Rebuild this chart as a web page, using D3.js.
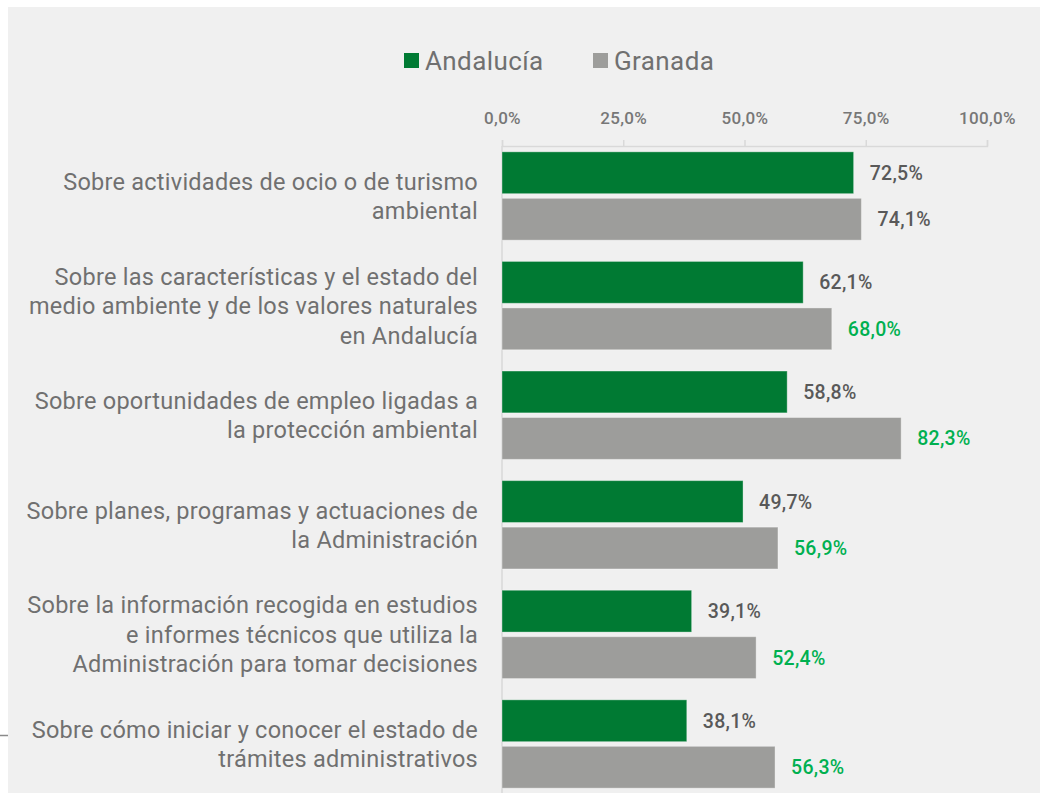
<!DOCTYPE html>
<html>
<head>
<meta charset="utf-8">
<script src="https://cdn.jsdelivr.net/npm/d3@7"></script>
<style>
  html, body { margin: 0; padding: 0; background: #ffffff; }
  svg { display: block; }
  text { font-family: Roboto, "Noto Sans", sans-serif; }
</style>
</head>
<body>
<svg id="chart" width="1040" height="793"></svg>
<script>
// Categories (each entry is the list of wrapped lines)
const categories = [
  ["Sobre actividades de ocio o de turismo", "ambiental"],
  ["Sobre las características y el estado del", "medio ambiente y de los valores naturales", "en Andalucía"],
  ["Sobre oportunidades de empleo ligadas a", "la protección ambiental"],
  ["Sobre planes, programas y actuaciones de", "la Administración"],
  ["Sobre la información recogida en estudios", "e informes técnicos que utiliza la", "Administración para tomar decisiones"],
  ["Sobre cómo iniciar y conocer el estado de", "trámites administrativos"]
];
const seriesNames = ["Andalucía", "Granada"];
const andalucia = [72.5, 62.1, 58.8, 49.7, 39.1, 38.1];
const granada = [74.1, 68.0, 82.3, 56.9, 52.4, 56.3];
// Granada values shown in green where they stand out above Andalucía
const granadaHighlight = [false, true, true, true, true, true];
const tickValues = [0, 25, 50, 75, 100];

const colors = { "Andalucía": "#007a33", "Granada": "#9d9d9b" };
const labelGray = "#595959";
const labelGreen = "#00b050";
const textGray = "#707070";
const gridGray = "#d9d9d9";

const svg = d3.select("#chart");
const W = 1040, H = 793;

// Panel background
svg.append("rect").attr("x", 8).attr("y", 7).attr("width", W - 8).attr("height", H - 7).attr("fill", "#f0f0f0");
svg.append("line").attr("x1", 0).attr("x2", 8).attr("y1", 735.5).attr("y2", 735.5)
  .attr("stroke", "#8a8a8a").attr("stroke-width", 1.5);

const x = d3.scaleLinear().domain([0, 100]).range([502, 987]);
const axisY = 146;

const y = d3.scaleBand()
  .domain(d3.range(categories.length))
  .range([141.2, 798.8])
  .paddingInner(0.194)
  .paddingOuter(0.097);

const ySub = d3.scaleBand()
  .domain(seriesNames)
  .range([0, y.bandwidth()])
  .paddingInner(0.1);

// Top axis
const fmt = d => d3.format(".1f")(d).replace(".", ",") + "%";
const axis = svg.append("g")
  .attr("transform", `translate(0,${axisY})`)
  .call(d3.axisTop(x).tickValues(tickValues).tickFormat(fmt).tickSize(6).tickPadding(16));
axis.select(".domain").attr("stroke", gridGray).attr("stroke-width", 1.5);
axis.selectAll(".tick line").attr("stroke", gridGray).attr("stroke-width", 1.5);
axis.selectAll(".tick text")
  .attr("fill", "#777777")
  .style("font-size", "17px")
  .style("font-weight", 500)
  .style("letter-spacing", "0.3px")
  .style("font-family", "Roboto, sans-serif");

// Vertical baseline
svg.append("line")
  .attr("x1", x(0)).attr("x2", x(0))
  .attr("y1", axisY).attr("y2", H)
  .attr("stroke", gridGray).attr("stroke-width", 1.5);

// Bars
const rows = categories.map((c, i) => ({
  i,
  lines: c,
  values: [
    { s: "Andalucía", v: andalucia[i], hi: false },
    { s: "Granada", v: granada[i], hi: granadaHighlight[i] }
  ]
}));

const groups = svg.selectAll("g.row").data(rows).join("g")
  .attr("class", "row")
  .attr("transform", d => `translate(0,${y(d.i)})`);

groups.selectAll("rect").data(d => d.values).join("rect")
  .attr("x", x(0))
  .attr("y", d => ySub(d.s))
  .attr("width", d => x(d.v) - x(0))
  .attr("height", ySub.bandwidth())
  .attr("fill", d => colors[d.s])
  .attr("stroke", "#ffffff")
  .attr("stroke-opacity", 0.35)
  .attr("stroke-width", 1);

groups.selectAll("text.val").data(d => d.values).join("text")
  .attr("class", "val")
  .attr("x", d => x(d.v) + 16)
  .attr("y", d => ySub(d.s) + ySub.bandwidth() / 2)
  .attr("dy", "0.36em")
  .attr("fill", d => d.hi ? labelGreen : labelGray)
  .style("font-size", "19.5px")
  .style("font-weight", 500)
  .style("letter-spacing", "0.3px")
  .text(d => d3.format(".1f")(d.v).replace(".", ",") + "%");

// Category labels
const lh = 29.5;
groups.each(function(d) {
  const g = d3.select(this);
  const cy = y.bandwidth() / 2;
  const n = d.lines.length;
  const t = g.append("text")
    .attr("text-anchor", "end")
    .attr("fill", textGray)
    .style("font-size", "23.5px")
    .style("letter-spacing", "0.25px");
  d.lines.forEach((ln, k) => {
    t.append("tspan")
      .attr("x", 478)
      .attr("y", cy + (k - (n - 1) / 2) * lh)
      .attr("dy", "0.36em")
      .text(ln);
  });
});

// Legend
const legend = svg.append("g");
const legendItems = [
  { s: "Andalucía", x: 404 },
  { s: "Granada", x: 593 }
];
const lg = legend.selectAll("g").data(legendItems).join("g")
  .attr("transform", d => `translate(${d.x},53)`);
lg.append("rect").attr("width", 15).attr("height", 15).attr("fill", d => colors[d.s]);
lg.append("text")
  .attr("x", 21).attr("y", 17)
  .attr("fill", textGray)
  .style("font-size", "26px")
  .style("letter-spacing", "0.4px")
  .text(d => d.s);
</script>
</body>
</html>
